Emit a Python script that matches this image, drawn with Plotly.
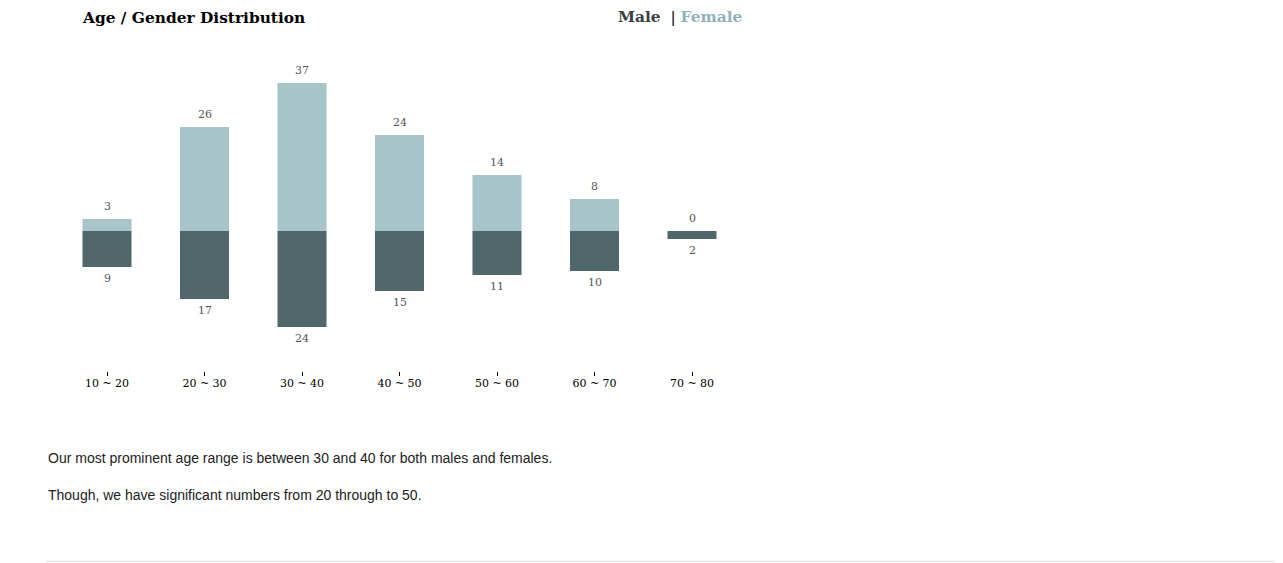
import plotly.graph_objects as go

categories = ["10 ~ 20", "20 ~ 30", "30 ~ 40", "40 ~ 50", "50 ~ 60", "60 ~ 70", "70 ~ 80"]
female = [3, 26, 37, 24, 14, 8, 0]
male = [9, 17, 24, 15, 11, 10, 2]

OFF = 8  # page body margin
W, H = 1283 - OFF, 563 - OFF
FEMALE_COLOR = "#a7c5c9"
MALE_COLOR = "#4f676b"
SERIF = "DejaVu Serif"


def px(x):
    return (x - OFF) / W


def py(y):
    return 1 - (y - OFF) / H


fig = go.Figure()
fig.add_trace(go.Bar(x=categories, y=female, name="Female", marker_color=FEMALE_COLOR,
                     marker_line_width=0, hoverinfo="x+y"))
fig.add_trace(go.Bar(x=categories, y=[-v for v in male], name="Male", marker_color=MALE_COLOR,
                     marker_line_width=0, hoverinfo="x+y"))

annotations = []
for c, f, m in zip(categories, female, male):
    annotations.append(dict(x=c, y=f, xref="x", yref="y", text=str(f), showarrow=False,
                            yanchor="middle", yshift=13,
                            font=dict(family=SERIF, size=11, color="#555555")))
    annotations.append(dict(x=c, y=-m, xref="x", yref="y", text=str(m), showarrow=False,
                            yanchor="middle", yshift=-11,
                            font=dict(family=SERIF, size=11, color="#555555")))

# Title
annotations.append(dict(x=px(80), y=py(18), xref="paper", yref="paper", xanchor="left",
                        yanchor="middle", showarrow=False, text="<b>Age / Gender Distribution</b>",
                        font=dict(family=SERIF, size=15.4, color="#000000")))
# Legend
annotations.append(dict(x=px(616), y=py(17), xref="paper", yref="paper", xanchor="left",
                        yanchor="middle", showarrow=False,
                        text="<b>Male</b>  <span style='color:#000000'>|</span> <b><span style='color:#8fb3b8'>Female</span></b>",
                        font=dict(family=SERIF, size=15.4, color="#3b4044")))
# Body text
annotations.append(dict(x=px(46), y=py(458), xref="paper", yref="paper", xanchor="left",
                        yanchor="middle", showarrow=False,
                        text="Our most prominent age range is between 30 and 40 for both males and females.",
                        font=dict(family="Liberation Sans", size=14, color="#222222")))
annotations.append(dict(x=px(46), y=py(495), xref="paper", yref="paper", xanchor="left",
                        yanchor="middle", showarrow=False,
                        text="Though, we have significant numbers from 20 through to 50.",
                        font=dict(family="Liberation Sans", size=14, color="#222222")))

fig.update_layout(
    width=W, height=H,
    margin=dict(l=0, r=0, t=0, b=0),
    paper_bgcolor="white", plot_bgcolor="white",
    barmode="relative", bargap=0.497,
    showlegend=False,
    annotations=annotations,
    shapes=[dict(type="line", xref="paper", yref="paper", x0=px(46), x1=px(1277),
                 y0=py(561.5), y1=py(561.5), line=dict(color="#e3e3e3", width=1.5))],
    xaxis=dict(domain=[px(58.25), px(740.75)], range=[-0.5, 6.5], showgrid=False,
               zeroline=False, showline=False, ticks="outside", ticklen=4, tickwidth=1,
               tickcolor="#000000", tickfont=dict(family=SERIF, size=11, color="#000000"),
               ticklabelstandoff=-2, anchor="y"),
    yaxis=dict(domain=[py(371), py(51)], range=[-35, 45], showgrid=False,
               zeroline=False, showline=False, showticklabels=False, ticks=""),
)

fig.write_html("out.html")
